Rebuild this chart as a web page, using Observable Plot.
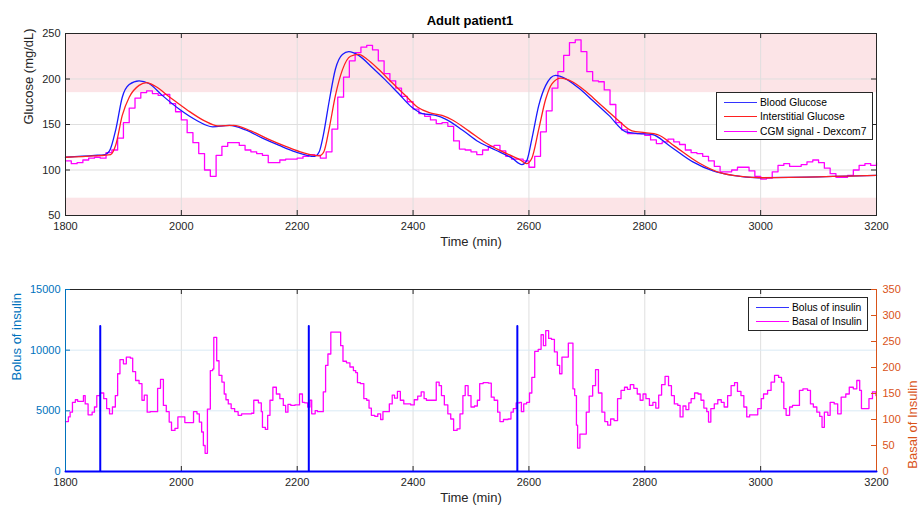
<!DOCTYPE html>
<html><head><meta charset="utf-8">
<script src="https://cdn.jsdelivr.net/npm/d3@7"></script>
<script src="https://cdn.jsdelivr.net/npm/@observablehq/plot@0.6"></script>
<style>
body{margin:0;background:#fff;font-family:"Liberation Sans",Arial,Helvetica,sans-serif;}
#wrap{position:relative;width:920px;height:510px;overflow:hidden;background:#fff;}
.panel{position:absolute;left:0;}
.title{position:absolute;top:13px;left:0;width:940px;text-align:center;font-weight:bold;font-size:13px;color:#000;}
.legend{position:absolute;background:#fff;border:1px solid #262626;font-size:10.3px;color:#000;box-sizing:border-box;padding-top:2px;}
.legend .row{display:flex;align-items:center;height:14.5px;white-space:nowrap;}
.legend .sw{width:33px;height:0;border-top:1.5px solid;margin:0 3px 0 7px;flex:none;}
</style></head>
<body><div id="wrap"></div>
<script>
// ---------- data ----------
const timeDomain = [1800, 3200];
const xTicks = [1800, 2000, 2200, 2400, 2600, 2800, 3000, 3200];
const glucoseDomain = [50, 250];
const glucoseTicks = [50, 100, 150, 200, 250];
const hypoBand = [50, 69];
const hyperBand = [185, 250];

const bgT = [1800,1850,1868,1876,1887,1898,1910,1927,1944,1967,1996,2025,2054,2083,2111,2140,2169,2197,2230,2238,2245,2255,2266,2278,2289,2306,2329,2352,2375,2398,2416,2439,2456,2485,2513,2542,2571,2588,2596,2605,2617,2629,2646,2663,2686,2709,2738,2767,2790,2813,2842,2883,2918,2952,2997,3050,3100,3150,3200];
const bgV = [114,116,117,121,145,180,194,198,195,182,167,155,147.5,149,144,135,127,120,115,120,138,175,211,227,230,226,213,199,184,169,162,160,156,144,131,122,113,106,110,134,171,193,204,200.5,190,177,160,142,140,139,127,109,99,94,91.5,91.8,92.5,93.3,94];

const isgT = [1800,1850,1878,1887,1898,1910,1927,1940,1955,1980,2010,2040,2063,2090,2120,2150,2180,2210,2238,2246,2255,2266,2278,2292,2306,2320,2340,2362,2385,2408,2428,2450,2468,2496,2525,2555,2585,2596,2605,2617,2629,2640,2655,2675,2697,2720,2750,2778,2800,2822,2852,2893,2930,2965,3005,3050,3100,3150,3200];
const isgV = [114,115.5,117,128,160,180,193,196,192,180,166,154,148.5,149,143,134,126,119,115.5,120,145,182,210,225,227,222,211,197,183,169,163,160,155,143,130,120,111,107,113,145,178,195,201,197,187,174,157,143,141,139,126,108,97,93,91.5,91.8,92.5,93.3,94];

const cgmStart = 1800, cgmStep = 10;
const cgmV = [110,107,108,111,113,114,113,119,122,135,152,168,179,185,187,184,182,183,173,164,
155,141,130,118,100,93,116,126,130,130,127,122,120,118,116,108,108,111,112,112,
113,115,117,116,113,120,145,180,202,220,229,235,237,232,220,206,198,190,181,175,
167,162,159,155,151,152,148,132,123,122,120,117,122,126,127,121,115,112,112,110,
103,115,142,165,190,208,226,240,243,230,208,198,197,188,172,152,144,140,140,140,
138,133,129,131,134,131,128,122,119,118,115,110,104,98,98,100,103,103,99,93,
90,91,98,105,107,104,104,106,109,111,108,102,96,92,92,94,100,105,107,105,108];

const bolusDomain = [0, 15000];
const bolusTicks = [0, 5000, 10000, 15000];
const bolusT = [1860, 2220, 2580];
const bolusV = [12000, 12000, 12000];

const basalDomain = [0, 350];
const basalTicks = [0, 50, 100, 150, 200, 250, 300, 350];
const basalT = [1800,1805,1808,1812,1817,1821,1831,1834,1839,1846,1850,1854,1860,1866,1871,1876,1881,1886,1890,1894,1900,1905,1912,1916,1921,1927,1932,1936,1941,1946,1959,1964,1969,1974,1979,1983,1989,1994,2006,2021,2027,2031,2035,2038,2041,2045,2050,2054,2056,2061,2065,2070,2074,2077,2081,2086,2092,2098,2104,2121,2125,2133,2138,2140,2145,2149,2153,2158,2164,2170,2176,2180,2184,2189,2196,2204,2209,2213,2218,2222,2225,2231,2235,2245,2249,2253,2258,2275,2279,2285,2291,2297,2301,2304,2309,2315,2320,2324,2328,2334,2339,2344,2348,2359,2364,2368,2373,2378,2384,2396,2402,2408,2414,2419,2423,2440,2445,2449,2454,2460,2465,2470,2476,2481,2486,2490,2495,2500,2506,2511,2515,2521,2530,2535,2540,2546,2550,2556,2564,2569,2573,2578,2584,2587,2591,2596,2601,2605,2610,2616,2621,2625,2629,2634,2639,2644,2649,2653,2657,2668,2676,2679,2682,2684,2688,2699,2704,2710,2715,2720,2726,2731,2736,2741,2747,2753,2759,2765,2770,2775,2781,2787,2792,2797,2802,2808,2814,2819,2824,2829,2835,2841,2846,2851,2857,2861,2866,2871,2876,2880,2886,2892,2897,2902,2907,2910,2914,2920,2926,2932,2937,2943,2949,2955,2960,2966,2971,2976,2981,2995,3001,3005,3012,3018,3024,3031,3036,3040,3044,3050,3055,3067,3073,3081,3086,3091,3097,3102,3106,3110,3116,3120,3127,3133,3139,3147,3153,3160,3166,3171,3174,3187,3193,3199,3200];
const basalV = [96,105,114,133,138,135,146,130,109,114,124,146,151,140,121,111,124,146,188,215,207,220,218,192,175,169,137,147,114,115,160,177,127,115,95,79,83,105,94,115,111,95,76,50,35,120,194,197,258,213,185,172,149,138,130,121,115,108,111,112,137,132,115,85,81,108,137,162,149,140,127,114,129,127,128,149,133,132,124,137,111,117,115,153,204,226,268,242,212,209,201,194,190,171,169,140,137,122,108,106,111,100,115,130,147,141,154,137,130,128,138,145,153,140,137,172,165,146,128,111,101,79,82,111,146,165,146,124,126,137,169,171,170,143,137,114,96,100,101,114,121,132,133,115,130,133,151,181,231,235,263,242,271,256,254,230,204,188,220,247,159,146,89,45,72,114,145,165,196,151,114,96,89,101,98,140,156,162,158,167,160,149,137,149,140,127,133,122,147,167,183,165,146,130,127,105,126,119,132,140,151,149,137,122,115,95,121,130,138,133,124,146,165,171,154,146,124,105,109,121,140,149,156,172,185,181,172,121,108,124,127,156,159,156,130,124,114,106,85,114,108,133,130,111,143,149,162,159,175,156,121,140,153,146,146];

// ---------- derived tables ----------
const bg = bgT.map((t, i) => ({t, v: bgV[i]}));
const isg = isgT.map((t, i) => ({t, v: isgV[i]}));
const cgm = cgmV.map((v, i) => ({t: cgmStart + i * cgmStep, v}));
const bands = [{lo: hypoBand[0], hi: hypoBand[1]}, {lo: hyperBand[0], hi: hyperBand[1]}];
const ratio = bolusDomain[1] / basalDomain[1];
const basal = basalT.map((t, i) => ({t, v: basalV[i] * ratio}));
const bolus = [{t: timeDomain[0], v: 0}];
bolusT.forEach((t, i) => { bolus.push({t, v: 0}, {t, v: bolusV[i]}, {t, v: 0}); });
bolus.push({t: timeDomain[1], v: 0});
const basalTickPos = basalTicks.map(b => b * ratio);

// ---------- style ----------
const FONT = '"Liberation Sans", Arial, Helvetica, sans-serif';
const AX = "#262626", GRID = "#dfdfdf", BLUEAX = "#0072BD", ORANGE = "#D95319", BGRID = "#d9eaf5";
const W = 920, ML = 65, MR = 44, FW = W - ML - MR, FH = 182, TK = 5;
const fmt = d3.format("d");

const wrap = document.getElementById("wrap");

// ---------- top panel ----------
const topPlot = Plot.plot({
  width: W, height: 255,
  marginTop: 33, marginBottom: 40, marginLeft: ML, marginRight: MR,
  style: {fontFamily: FONT, fontSize: "11px", color: AX, background: "transparent", overflow: "visible"},
  x: {domain: timeDomain},
  y: {domain: glucoseDomain},
  marks: [
    Plot.rect(bands, {x1: () => timeDomain[0], x2: () => timeDomain[1], y1: "lo", y2: "hi", fill: "#fce4e7"}),
    Plot.gridX(xTicks, {stroke: GRID, strokeOpacity: 1}),
    Plot.gridY(glucoseTicks, {stroke: GRID, strokeOpacity: 1}),
    Plot.line(cgm, {x: "t", y: "v", stroke: "#ff00ff", strokeWidth: 1.3, curve: "step-after"}),
    Plot.line(bg, {x: "t", y: "v", stroke: "#1a1aff", strokeWidth: 1.3, curve: "monotone-x"}),
    Plot.line(isg, {x: "t", y: "v", stroke: "#ff2020", strokeWidth: 1.3, curve: "monotone-x"}),
    Plot.tickX(xTicks, {x: d => d, stroke: AX, insetTop: FH - TK}),
    Plot.tickX(xTicks, {x: d => d, stroke: AX, insetBottom: FH - TK}),
    Plot.tickY(glucoseTicks, {y: d => d, stroke: AX, insetRight: FW - TK}),
    Plot.tickY(glucoseTicks, {y: d => d, stroke: AX, insetLeft: FW - TK}),
    Plot.frame({stroke: AX}),
    Plot.axisX(xTicks, {tickSize: 0, tickPadding: 7, tickFormat: fmt, label: null, fontSize: 11, fill: AX}),
    Plot.axisY(glucoseTicks, {tickSize: 0, tickPadding: 5, tickFormat: fmt, label: null, fontSize: 11, fill: AX}),
    Plot.text(["Time (min)"], {frameAnchor: "bottom", dy: 30, fontSize: 13, fill: AX}),
    Plot.text(["Glucose (mg/dL)"], {frameAnchor: "left", dx: -37, rotate: -90, fontSize: 13, fill: AX})
  ]
});
topPlot.classList.add("panel");
topPlot.style.top = "0px";
wrap.appendChild(topPlot);

// ---------- bottom panel ----------
const botPlot = Plot.plot({
  width: W, height: 254,
  marginTop: 33, marginBottom: 39, marginLeft: ML, marginRight: MR,
  style: {fontFamily: FONT, fontSize: "11px", color: AX, background: "transparent", overflow: "visible"},
  x: {domain: timeDomain},
  y: {domain: bolusDomain},
  marks: [
    Plot.gridX(xTicks, {stroke: GRID, strokeOpacity: 1}),
    Plot.gridY(bolusTicks, {stroke: BGRID, strokeOpacity: 1}),
    Plot.line(basal, {x: "t", y: "v", stroke: "#ff00ff", strokeWidth: 1.3, curve: "step-after"}),
    Plot.ruleY([bolusDomain[1]], {stroke: AX}),
    Plot.tickX(xTicks, {x: d => d, stroke: AX, insetTop: FH - TK}),
    Plot.tickX(xTicks, {x: d => d, stroke: AX, insetBottom: FH - TK}),
    Plot.tickY(bolusTicks, {y: d => d, stroke: BLUEAX, insetRight: FW - TK}),
    Plot.tickY(basalTickPos, {y: d => d, stroke: ORANGE, insetLeft: FW - TK}),
    Plot.ruleX([timeDomain[0]], {stroke: BLUEAX}),
    Plot.ruleX([timeDomain[1]], {stroke: ORANGE}),
    Plot.line(bolus, {x: "t", y: "v", stroke: "#0000ff", strokeWidth: 2}),
    Plot.axisX(xTicks, {tickSize: 0, tickPadding: 7, tickFormat: fmt, label: null, fontSize: 11, fill: AX}),
    Plot.axisY(bolusTicks, {anchor: "left", tickSize: 0, tickPadding: 5, tickFormat: fmt, label: null, fontSize: 11, fill: BLUEAX}),
    Plot.axisY(basalTickPos, {anchor: "right", tickSize: 0, tickPadding: 6, tickFormat: d => fmt(Math.round(d / ratio)), label: null, fontSize: 11, fill: ORANGE}),
    Plot.text(["Time (min)"], {frameAnchor: "bottom", dy: 30, fontSize: 13, fill: AX}),
    Plot.text(["Bolus of insulin"], {frameAnchor: "left", dx: -49, rotate: -90, fontSize: 13, fill: BLUEAX}),
    Plot.text(["Basal of Insulin"], {frameAnchor: "right", dx: 36, rotate: -90, fontSize: 13, fill: ORANGE})
  ]
});
botPlot.classList.add("panel");
botPlot.style.top = "256px";
wrap.appendChild(botPlot);

// ---------- title & legends ----------
const title = document.createElement("div");
title.className = "title";
title.textContent = "Adult patient1";
wrap.appendChild(title);

function legend(items, left, top, width, height) {
  const box = document.createElement("div");
  box.className = "legend";
  Object.assign(box.style, {left: left + "px", top: top + "px", width: width + "px", height: height + "px"});
  items.forEach(([label, color]) => {
    const row = document.createElement("div");
    row.className = "row";
    const sw = document.createElement("span");
    sw.className = "sw";
    sw.style.borderTopColor = color;
    const tx = document.createElement("span");
    tx.textContent = label;
    row.append(sw, tx);
    box.appendChild(row);
  });
  wrap.appendChild(box);
}
legend([["Blood Glucose", "#3333ff"], ["Interstitial Glucose", "#ff2020"], ["CGM signal - Dexcom7", "#ff00ff"]], 716, 92, 157, 48);
legend([["Bolus of insulin", "#3333ff"], ["Basal of Insulin", "#ff00ff"]], 748, 297, 120, 34);
</script>
</body></html>
